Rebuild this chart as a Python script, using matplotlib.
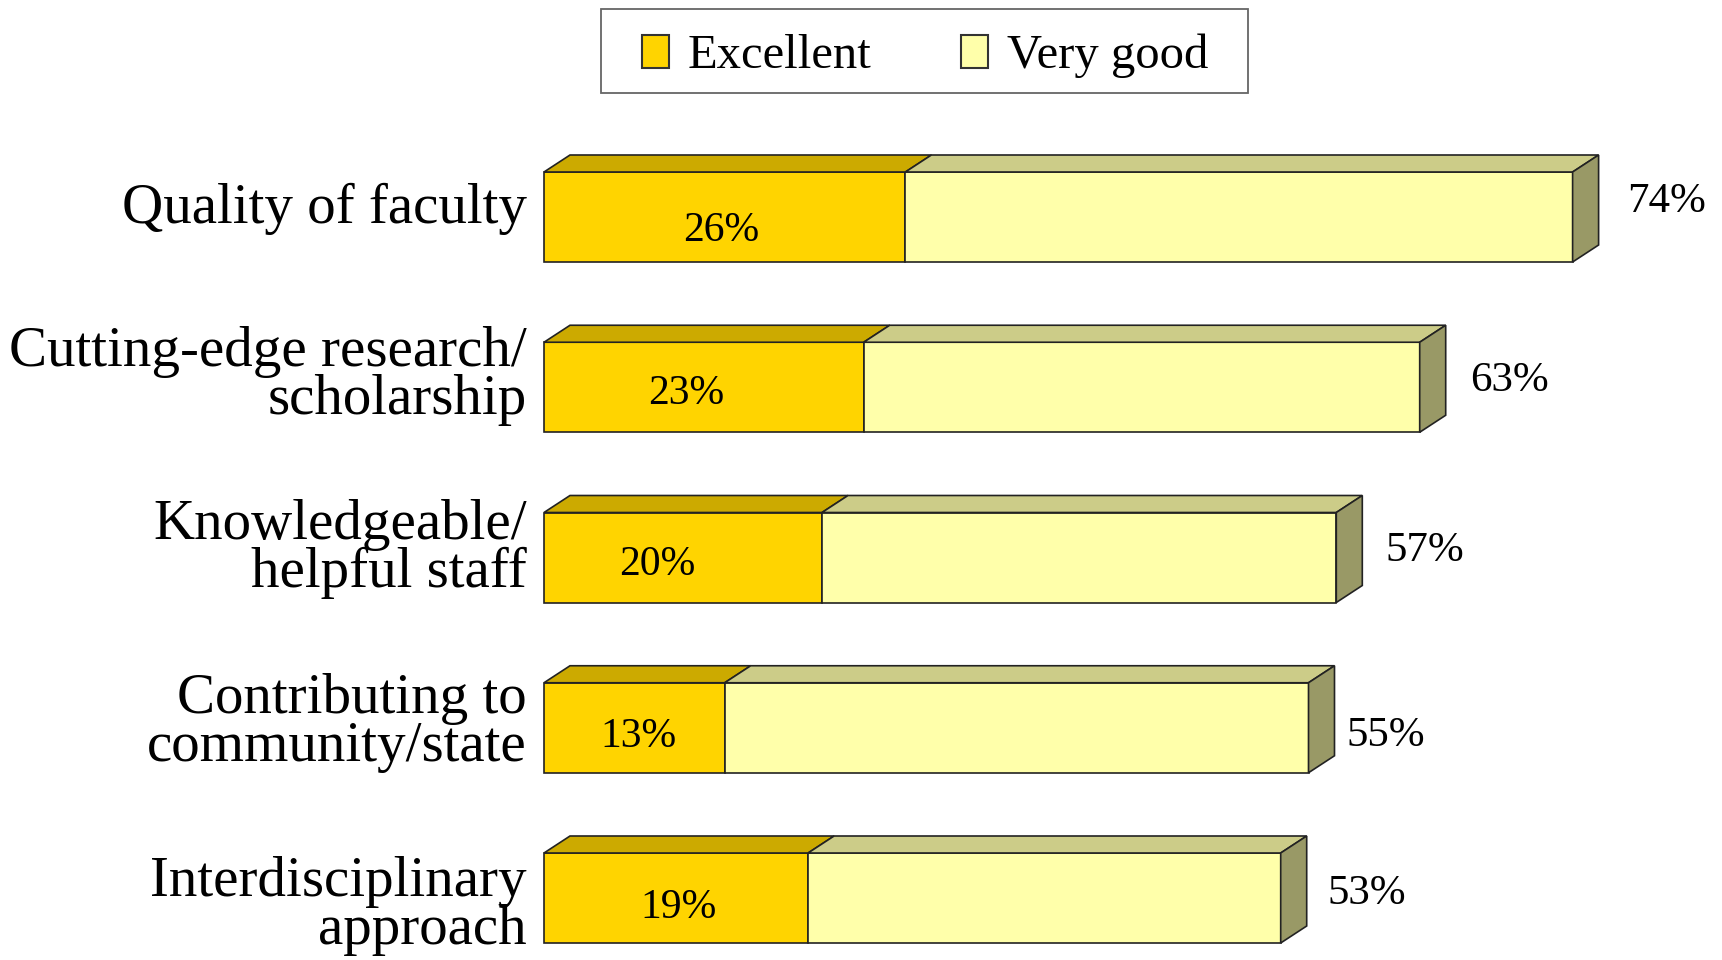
import matplotlib.pyplot as plt
from matplotlib.patches import Polygon, Patch, Rectangle
import numpy as np

plt.rcParams['font.family'] = ['Liberation Serif', 'DejaVu Serif']

categories = ["Quality of faculty", "Cutting-edge research/\nscholarship",
              "Knowledgeable/\nhelpful staff", "Contributing to\ncommunity/state",
              "Interdisciplinary\napproach"]
excellent = [26, 23, 20, 13, 19]
totals = [74, 63, 57, 55, 53]
very_good = [t - e for t, e in zip(totals, excellent)]

c_exc, c_exc_top = "#FFD400", "#CCAA00"
c_vg, c_vg_top, c_vg_side = "#FFFFAA", "#CCCC88", "#999966"

# small hand nudges (pixels) so labels sit where they do in the original slide
cat_dy = [0, -3, 0, 4, 17]
inner_dx = [-4, -18, -26, 4, 2]
inner_dy = [5, -2, -2, 0, 1]
val_dx = [6, 1, 0, -11, -2]
val_dy = [-9, 0, 0, 14, 2]

fig = plt.figure(figsize=(17.22, 9.6), dpi=100)
ax = fig.add_axes([0, 0, 1, 1])

px_x = 13.9      # pixels per percent
px_y = 170.25    # pixels per row
ax.set_xlim(-544 / px_x, (1722 - 544) / px_x)
ax.set_ylim((960 - 217) / px_y, -217 / px_y)
ax.axis("off")

h = 90 / px_y          # front face height
ddx = 26 / px_x        # depth offsets
ddy = 17 / px_y

y = np.arange(len(categories))
ax.barh(y, excellent, height=h, color=c_exc, edgecolor="#222222", lw=1.2, zorder=2)
ax.barh(y, very_good, left=excellent, height=h, color=c_vg, edgecolor="#222222", lw=1.2, zorder=2)

for i in range(len(categories)):
    top = y[i] - h / 2
    e, t = excellent[i], totals[i]
    ax.add_patch(Polygon([(0, top), (e, top), (e + ddx, top - ddy), (ddx, top - ddy)],
                         closed=True, fc=c_exc_top, ec="#222222", lw=1.2, zorder=3))
    ax.add_patch(Polygon([(e, top), (t, top), (t + ddx, top - ddy), (e + ddx, top - ddy)],
                         closed=True, fc=c_vg_top, ec="#222222", lw=1.2, zorder=3))
    ax.add_patch(Polygon([(t, top), (t + ddx, top - ddy), (t + ddx, top + h - ddy), (t, top + h)],
                         closed=True, fc=c_vg_side, ec="#222222", lw=1.2, zorder=3))
    # labels
    ax.text(-17 / px_x, y[i] - ddy / 2 + cat_dy[i] / px_y, categories[i], ha="right",
            va="center", fontsize=41, linespacing=0.9)
    ax.text(e / 2 + inner_dx[i] / px_x, y[i] + (9 + inner_dy[i]) / px_y, f"{e}%",
            ha="center", va="center", fontsize=30)
    ax.text(t + ddx + (23 + val_dx[i]) / px_x, y[i] - ddy / 2 + (2 + val_dy[i]) / px_y,
            f"{t}%", ha="left", va="center", fontsize=31)

# legend (frame drawn separately to get the slide's padding)
handles = [Patch(fc=c_exc, ec="#333333", lw=1.5, label="Excellent"),
           Patch(fc=c_vg, ec="#333333", lw=1.5, label="Very good")]
fig.legend(handles=handles, loc="center left", bbox_to_anchor=(642 / 1722, 1 - 56 / 960),
           ncol=2, fontsize=35, frameon=False, handlelength=0.555, handleheight=0.68,
           handletextpad=0.38, columnspacing=1.85, borderpad=0, borderaxespad=0)
fig.patches.append(Rectangle((601 / 1722, 1 - 93 / 960), 647 / 1722, 84 / 960,
                             transform=fig.transFigure, fill=False, ec="#666666", lw=1.3))

fig.savefig("out.png", dpi=100)
